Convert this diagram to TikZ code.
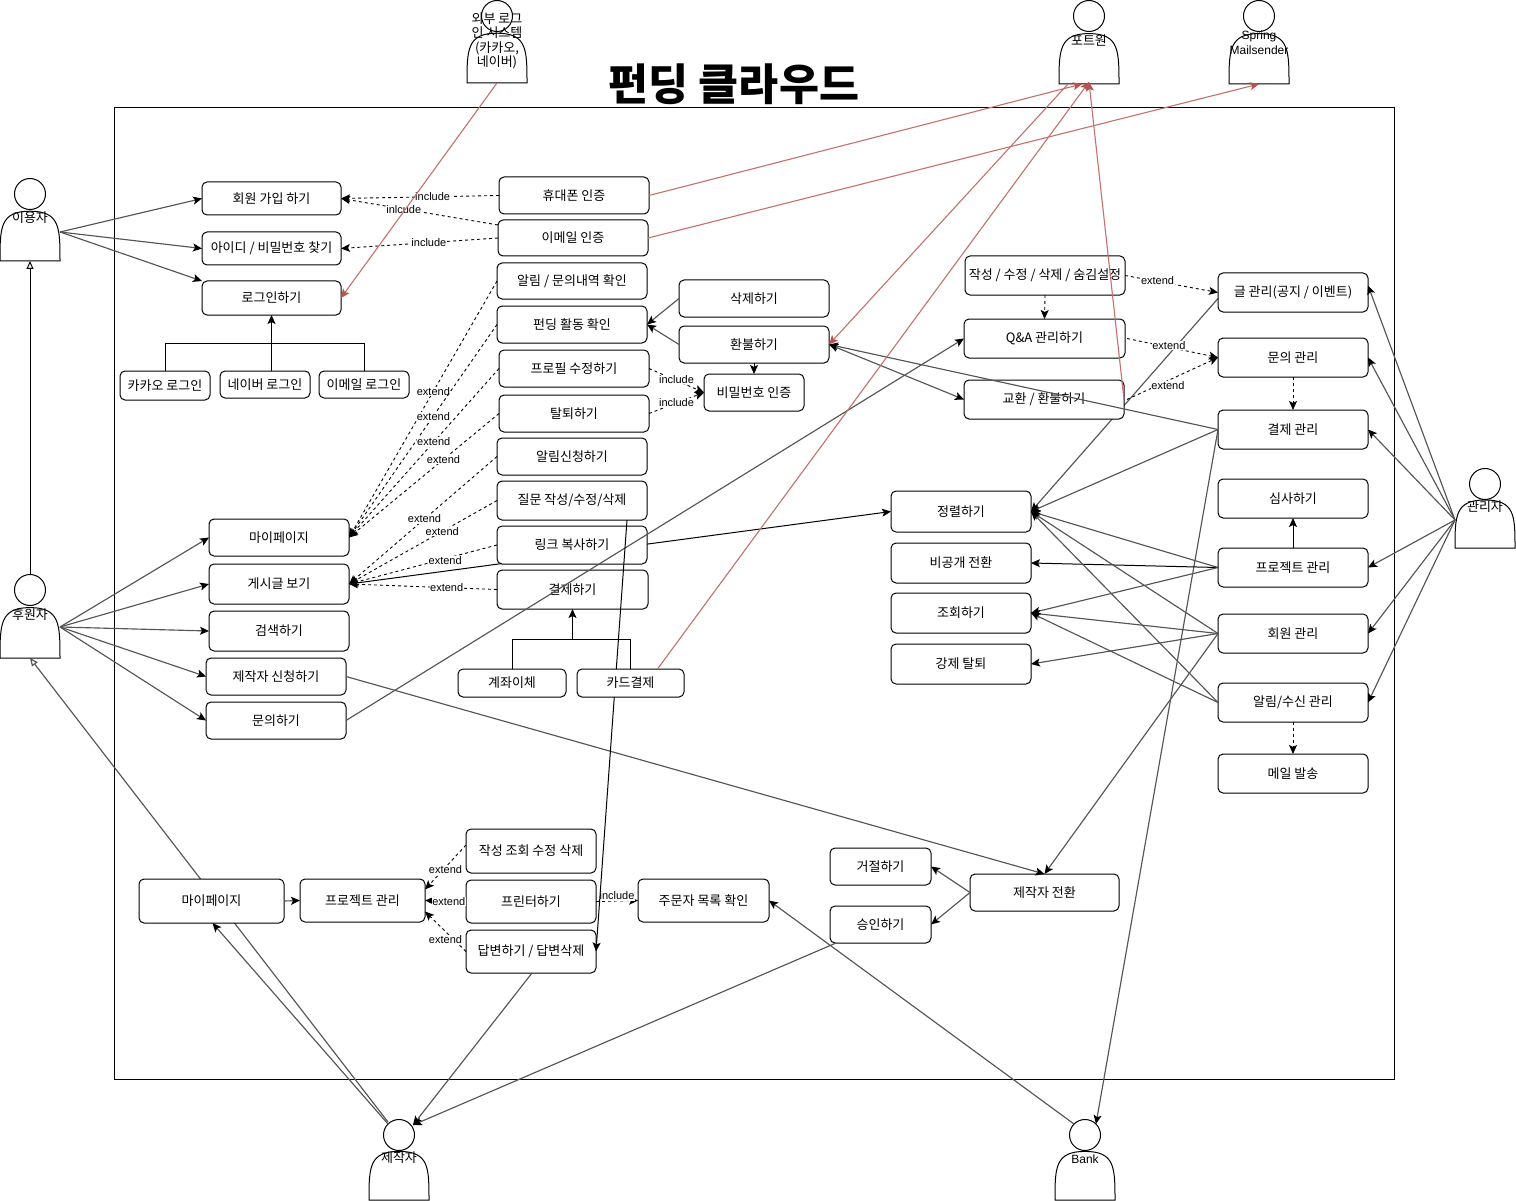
\documentclass[tikz,border=0pt]{standalone}
\usepackage{fontspec}
\setmainfont{Noto Sans CJK KR}
\newfontfamily\labelfont{Liberation Sans}
\definecolor{linegrey}{HTML}{555555}
\definecolor{linered}{HTML}{C4706C}
\definecolor{tipred}{HTML}{B85450}
\usetikzlibrary{arrows.meta}
\usetikzlibrary{backgrounds}
\usetikzlibrary{calc}
\tikzset{
    usecase/.style 2 args={draw, fill=white, line width=1pt, rounded corners=5pt, inner sep=0pt, outer sep=0pt,
        minimum width=#1pt, minimum height=#2pt, font=\fontsize{13}{15}\selectfont},
    elabel/.style={fill=white, inner sep=0.5pt, font=\labelfont\fontsize{11}{13}\selectfont},
    blacktip/.style={-{Stealth[length=9pt,width=8pt,inset=2pt,black]}},
    bothtips/.style={{Stealth[length=9pt,width=8pt,inset=2pt,black]}-{Stealth[length=9pt,width=8pt,inset=2pt,black]}},
    solidline/.style={black, line width=1pt, blacktip},
    greyline/.style={linegrey, line width=1.15pt, blacktip},
    dashline/.style={black, line width=0.9pt, dash pattern=on 3pt off 3pt, blacktip},
    redline/.style={linered, line width=1.1pt, -{Stealth[length=9pt,width=8pt,inset=2pt,tipred]}},
    opentip/.style={-{Triangle[open,length=8pt,width=7pt,fill=white]}},
    actorlabel/.style={align=center, inner sep=0pt, font=\fontsize{13}{14.5}\selectfont},
}
% name, centre x, top y, height
\newcommand{\actor}[4]{%
    \node [minimum width=60pt, minimum height=#4pt, inner sep=0pt, outer sep=0pt] (#1) at (#2,#3+#4/2) {};
    \draw [black, line width=1pt, fill=white] (#1.south west)
        .. controls ($(#1.south west)+(0,-0.4*#4)$) and ($(#1.south west)+(0,-0.6*#4)$) .. ($(#1.south)+(0,-0.6*#4)$)
        .. controls ($(#1.south east)+(0,-0.6*#4)$) and ($(#1.south east)+(0,-0.4*#4)$) .. (#1.south east) -- cycle;
    \node [draw=black, line width=1pt, fill=white, circle, minimum size=31pt, inner sep=0pt, outer sep=0pt] (#1head) at (#2,#3+16) {};
}

\begin{document}
\begin{tikzpicture}[x=1pt, y=-1pt]
    \useasboundingbox (0,0) rectangle (1516,1201);

    % actors
    \actor{user}{30}{178}{83}
    \actor{sponsor}{30}{574}{84}
    \actor{extlogin}{497}{0}{83}
    \actor{portone}{1089}{0}{84}
    \actor{spring}{1259}{0}{84}
    \actor{admin}{1485}{468}{80}
    \actor{maker}{399}{1119}{81}
    \actor{bank}{1085}{1119}{81}

    \node [actorlabel] (userlabel) at (30,218) {이용자};
    \node [actorlabel] (sponsorlabel) at (30,615) {후원자};
    \node [actorlabel] (extlabel) at (497,41) {외부 로그\\인 시스템\\(카카오,\\네이버)};
    \node [actorlabel] (portlabel) at (1089,41) {포트원};
    \node [actorlabel, font=\labelfont\fontsize{12}{15}\selectfont] (springlabel) at (1259,43) {Spring\\Mailsender};
    \node [actorlabel] (adminlabel) at (1485,507) {관리자};
    \node [actorlabel] (makerlabel) at (399,1158) {제작자};
    \node [actorlabel, font=\labelfont\fontsize{12}{15}\selectfont] (banklabel) at (1085,1159) {Bank};

    \node [font=\bfseries\fontsize{43.5}{48}\selectfont, inner sep=0pt] (title) at (734,84) {펀딩 클라우드};

    % left column
    \node [usecase={139}{33}] (signup) at (271.5,198.5) {회원 가입 하기};
    \node [usecase={139}{33}] (findid) at (271.5,248.5) {아이디 / 비밀번호 찾기};
    \node [usecase={139}{34}] (login) at (271.5,298) {로그인하기};
    \node [usecase={90}{29}] (kakao) at (165,385.5) {카카오 로그인};
    \node [usecase={90}{27}] (naver) at (265,384.5) {네이버 로그인};
    \node [usecase={90}{27}] (maillogin) at (364,384.5) {이메일 로그인};
    \node [usecase={140}{37}] (mypage) at (279,537.5) {마이페이지};
    \node [usecase={140}{40}] (board) at (279,584) {게시글 보기};
    \node [usecase={140}{40}] (search) at (279,631) {검색하기};
    \node [usecase={140}{37}] (makerapply) at (276,676.5) {제작자 신청하기};
    \node [usecase={140}{37}] (inquiry) at (276,720.5) {문의하기};

    % middle column
    \node [usecase={150}{37}] (phoneauth) at (574,195.5) {휴대폰 인증};
    \node [usecase={150}{36}] (mailauth) at (573,238) {이메일 인증};
    \node [usecase={150}{36}] (alarmcheck) at (572,281) {알림 / 문의내역 확인};
    \node [usecase={150}{37}] (fundcheck) at (572,324.5) {펀딩 활동 확인};
    \node [usecase={150}{37}] (profile) at (574,368.5) {프로필 수정하기};
    \node [usecase={150}{37}] (withdraw) at (574,413.5) {탈퇴하기};
    \node [usecase={150}{37}] (alarmapply) at (572,456.5) {알림신청하기};
    \node [usecase={150}{39}] (question) at (572,500.5) {질문 작성/수정/삭제};
    \node [usecase={150}{38}] (linkcopy) at (572,545) {링크 복사하기};
    \node [usecase={151}{39}] (pay) at (572.5,589.5) {결제하기};
    \node [usecase={108}{28}] (transfer) at (512,683) {계좌이체};
    \node [usecase={150}{37}] (delete) at (754,298.5) {삭제하기};
    \node [usecase={150}{37}] (refund) at (754,344.5) {환불하기};
    \node [usecase={100}{37}] (pwauth) at (754,392.5) {비밀번호 인증};

    % bottom row
    \node [usecase={145}{44}] (mypagetwo) at (211.5,901) {마이페이지};
    \node [usecase={125}{43}] (projecttwo) at (362.5,900.5) {프로젝트 관리};
    \node [usecase={130}{44}] (crud) at (531,851) {작성 조회 수정 삭제};
    \node [usecase={130}{43}] (printer) at (531,901.5) {프린터하기};
    \node [usecase={130}{43}] (answer) at (531,951.5) {답변하기 / 답변삭제};
    \node [usecase={131}{43}] (orders) at (703.5,900.5) {주문자 목록 확인};
    \node [usecase={101}{37}] (reject) at (880.5,866.5) {거절하기};
    \node [usecase={101}{37}] (approve) at (880.5,924.5) {승인하기};
    \node [usecase={149}{37}] (makerswitch) at (1044.5,892.5) {제작자 전환};

    % right side
    \node [usecase={160}{39}] (writeedit) at (1045,275.5) {작성 / 수정 / 삭제 / 숨김설정};
    \node [usecase={161}{39}] (qna) at (1044.5,338.5) {Q\&A 관리하기};
    \node [usecase={160}{39}] (exchange) at (1044,399.5) {교환 / 환불하기};
    \node [usecase={140}{41}] (sort) at (961,511.5) {정렬하기};
    \node [usecase={140}{40}] (private) at (961,563) {비공개 전환};
    \node [usecase={140}{40}] (lookup) at (961,613) {조회하기};
    \node [usecase={140}{40}] (ban) at (961,664) {강제 탈퇴};
    \node [usecase={150}{39}] (postmgr) at (1293,292.5) {글 관리(공지 / 이벤트)};
    \node [usecase={150}{39}] (inqmgr) at (1293,357.5) {문의 관리};
    \node [usecase={150}{39}] (paymgr) at (1293,429.5) {결제 관리};
    \node [usecase={150}{39}] (review) at (1293,498.5) {심사하기};
    \node [usecase={150}{39}] (projmgr) at (1293,567.5) {프로젝트 관리};
    \node [usecase={150}{39}] (membermgr) at (1293,633.5) {회원 관리};
    \node [usecase={150}{39}] (alarmmgr) at (1293,702.5) {알림/수신 관리};
    \node [usecase={150}{39}] (mailsend) at (1293,773.5) {메일 발송};

    \coordinate (userarm) at ([yshift=-12.5pt]user.east);
    \coordinate (sponsorarm) at ([yshift=-11pt]sponsor.east);
    \coordinate (adminarm) at ([yshift=-12pt]admin.west);
    \coordinate (makerarm) at ([xshift=3pt,yshift=-1pt]makerhead.north east);

    % lines that pass behind the boxes
    \begin{scope}[on background layer]
        \draw [black, line width=1pt] (114,108) rectangle (1394,1079);
        \draw [linegrey, line width=1.15pt, opentip] (maker.north west) ++(19,3) -- (sponsor.south);
        \draw [black, line width=1pt, bothtips] (board.east) -- (sort.west);
        \draw [greyline] ([yshift=-6pt]postmgr.west) -- (sort.east);
    \end{scope}

    % actors to use cases
    \draw [greyline] (userarm) -- (signup.west);
    \draw [greyline] (userarm) -- (findid.west);
    \draw [greyline] (userarm) -- (login.north west);
    \draw [black, line width=1pt, opentip] (sponsor.north) -- (user.south);
    \draw [greyline] (sponsorarm) -- (mypage.west);
    \draw [greyline] (sponsorarm) -- (board.west);
    \draw [greyline] (sponsorarm) -- (search.west);
    \draw [greyline] (sponsorarm) -- (makerapply.west);
    \draw [greyline] (sponsorarm) -- (inquiry.west);
    \draw [greyline] (makerhead.north west) -- ([xshift=1pt]mypagetwo.south);
    \draw [greyline] (adminarm) -- ([yshift=7pt]postmgr.east);
    \draw [greyline] (adminarm) -- (inqmgr.east);
    \draw [greyline] (adminarm) -- (paymgr.east);
    \draw [greyline] (adminarm) -- (projmgr.east);
    \draw [greyline] (adminarm) -- (membermgr.east);
    \draw [greyline] (adminarm) -- (alarmmgr.east);

    % login and payment kinds
    \draw [black, line width=1pt] (kakao.north) |- ($(login.south)+(0,28)$);
    \draw [black, line width=1pt] (maillogin.north) |- ($(login.south)+(0,28)$);
    \draw [solidline, line width=1.6pt] (login.south |- naver.north) -- (login.south);
    \draw [black, line width=1pt] (transfer.north) |- ($(pay.south)+(0,30)$);
    \draw [solidline] ($(pay.south)+(0,30)$) -- (pay.south);

    % include and extend
    \draw [dashline] (phoneauth.west) -- node [elabel, pos=.42] (incphone) {include} (signup.east);
    \draw [dashline] ([yshift=13pt]mailauth.west) -- node [elabel, pos=.6] (incmail) {inlcude} (signup.east);
    \draw [dashline] (mailauth.west) -- node [elabel, pos=.44] (incfind) {include} (findid.east);
    \draw [dashline] (alarmcheck.west) -- node [elabel, pos=.43] (extalarm) {extend} (mypage.east);
    \draw [dashline] (fundcheck.west) -- node [elabel, pos=.43] (extfund) {extend} (mypage.east);
    \draw [dashline] (profile.west) -- node [elabel, pos=.435] (extprofile) {extend} (mypage.east);
    \draw [dashline] (withdraw.west) -- node [elabel, pos=.37] (extwithdraw) {extend} (mypage.east);
    \draw [dashline] (alarmapply.west) -- node [elabel, pos=.49] (extapply) {extend} (board.east);
    \draw [dashline] (question.west) -- node [elabel, pos=.37] (extquestion) {extend} (board.east);
    \draw [dashline] (linkcopy.west) -- node [elabel, pos=.35, yshift=-2pt] (extlink) {extend} (board.east);
    \draw [dashline] (pay.west) -- node [elabel, pos=.34] (extpay) {extend} (board.east);
    \draw [dashline] (profile.east) -- node [elabel, pos=.5, yshift=1pt] (incprofile) {include} (pwauth.west);
    \draw [dashline] (withdraw.east) -- node [elabel, pos=.5] (incwithdraw) {include} (pwauth.west);
    \draw [dashline] (writeedit.east) -- node [elabel, pos=.35, yshift=1pt] (extwrite) {extend} (postmgr.west);
    \draw [dashline] (writeedit.south) -- (qna.north);
    \draw [dashline] ([xshift=2pt]qna.east) -- node [elabel, pos=.46, yshift=2pt] (extqna) {extend} (inqmgr.west);
    \draw [dashline] ([xshift=3pt]exchange.east) -- node [elabel, pos=.45, yshift=-5pt] (extexchange) {extend} (inqmgr.west);
    \draw [dashline] (inqmgr.south) -- (paymgr.north);
    \draw [dashline] (alarmmgr.south) -- (mailsend.north);
    \draw [dashline] ([yshift=6pt]crud.west) -- node [elabel, pos=.5, yshift=-2pt] (extcrud) {extend} ([yshift=11pt]projecttwo.east);
    \draw [dashline] (printer.west) -- node [elabel, pos=.42] (extprinter) {extend} (projecttwo.east);
    \draw [dashline] (answer.west) -- node [elabel, pos=.5, yshift=-8pt] (extanswer) {extend} ([yshift=-11pt]projecttwo.east);
    \draw [dashline] (printer.east) -- node [elabel, pos=.5, yshift=5pt] (incprinter) {include} (orders.west);

    % use case to use case
    \draw [greyline] (delete.west) -- (fundcheck.east);
    \draw [greyline] (refund.west) -- (fundcheck.east);
    \draw [solidline] (refund.south) -- (pwauth.north);
    \draw [greyline] (inquiry.east) -- (qna.west);
    \draw [greyline] (makerapply.east) -- (makerswitch.north);
    \draw [greyline, bothtips] (refund.east) -- (exchange.west);
    \draw [greyline] (paymgr.west) -- (refund.east);
    \draw [greyline] (paymgr.west) -- (sort.east);
    \draw [greyline] (paymgr.west) -- (bankhead.north east);
    \draw [greyline] (projmgr.west) -- (sort.east);
    \draw [solidline] (projmgr.west) -- (private.east);
    \draw [greyline] (projmgr.west) -- (lookup.east);
    \draw [solidline] (projmgr.north) -- (review.south);
    \draw [greyline] (membermgr.west) -- (sort.east);
    \draw [greyline] (membermgr.west) -- (lookup.east);
    \draw [greyline] (membermgr.west) -- (ban.east);
    \draw [greyline] (membermgr.west) -- (makerswitch.north);
    \draw [greyline] (alarmmgr.west) -- (sort.east);
    \draw [greyline] (alarmmgr.west) -- (lookup.east);
    \draw [greyline] (makerswitch.west) -- (reject.east);
    \draw [greyline] (makerswitch.west) -- (approve.east);
    \draw [greyline] (approve.south west) ++(6,0) -- (makerarm);
    \draw [greyline] (bankhead.north west) -- (orders.east);
    \draw [greyline] ([xshift=1pt]answer.south) -- (makerarm);
    \draw [greyline] (mypagetwo.east) -- (projecttwo.west);
    \draw [solidline] ([xshift=55pt]question.south) -- (answer.east);

    % this box sits on top of the line above
    \node [usecase={107}{28}] (card) at (630.5,683) {카드결제};
    \draw [black, line width=1pt] (card.north) |- ($(pay.south)+(0,30)$);

    % external systems
    \draw [redline] (extlogin.south) -- (login.east);
    \draw [redline] (phoneauth.east) -- ([xshift=-7pt]portone.south);
    \draw [redline] (mailauth.east) -- (spring.south);
    \draw [redline] ([xshift=27pt]card.north) -- ([yshift=2pt]portone.south);
    \draw [redline] (exchange.east) -- ([yshift=2pt]portone.south);
    \draw [redline] ([xshift=-21pt]portone.south) -- (refund.east);
\end{tikzpicture}
\end{document}
